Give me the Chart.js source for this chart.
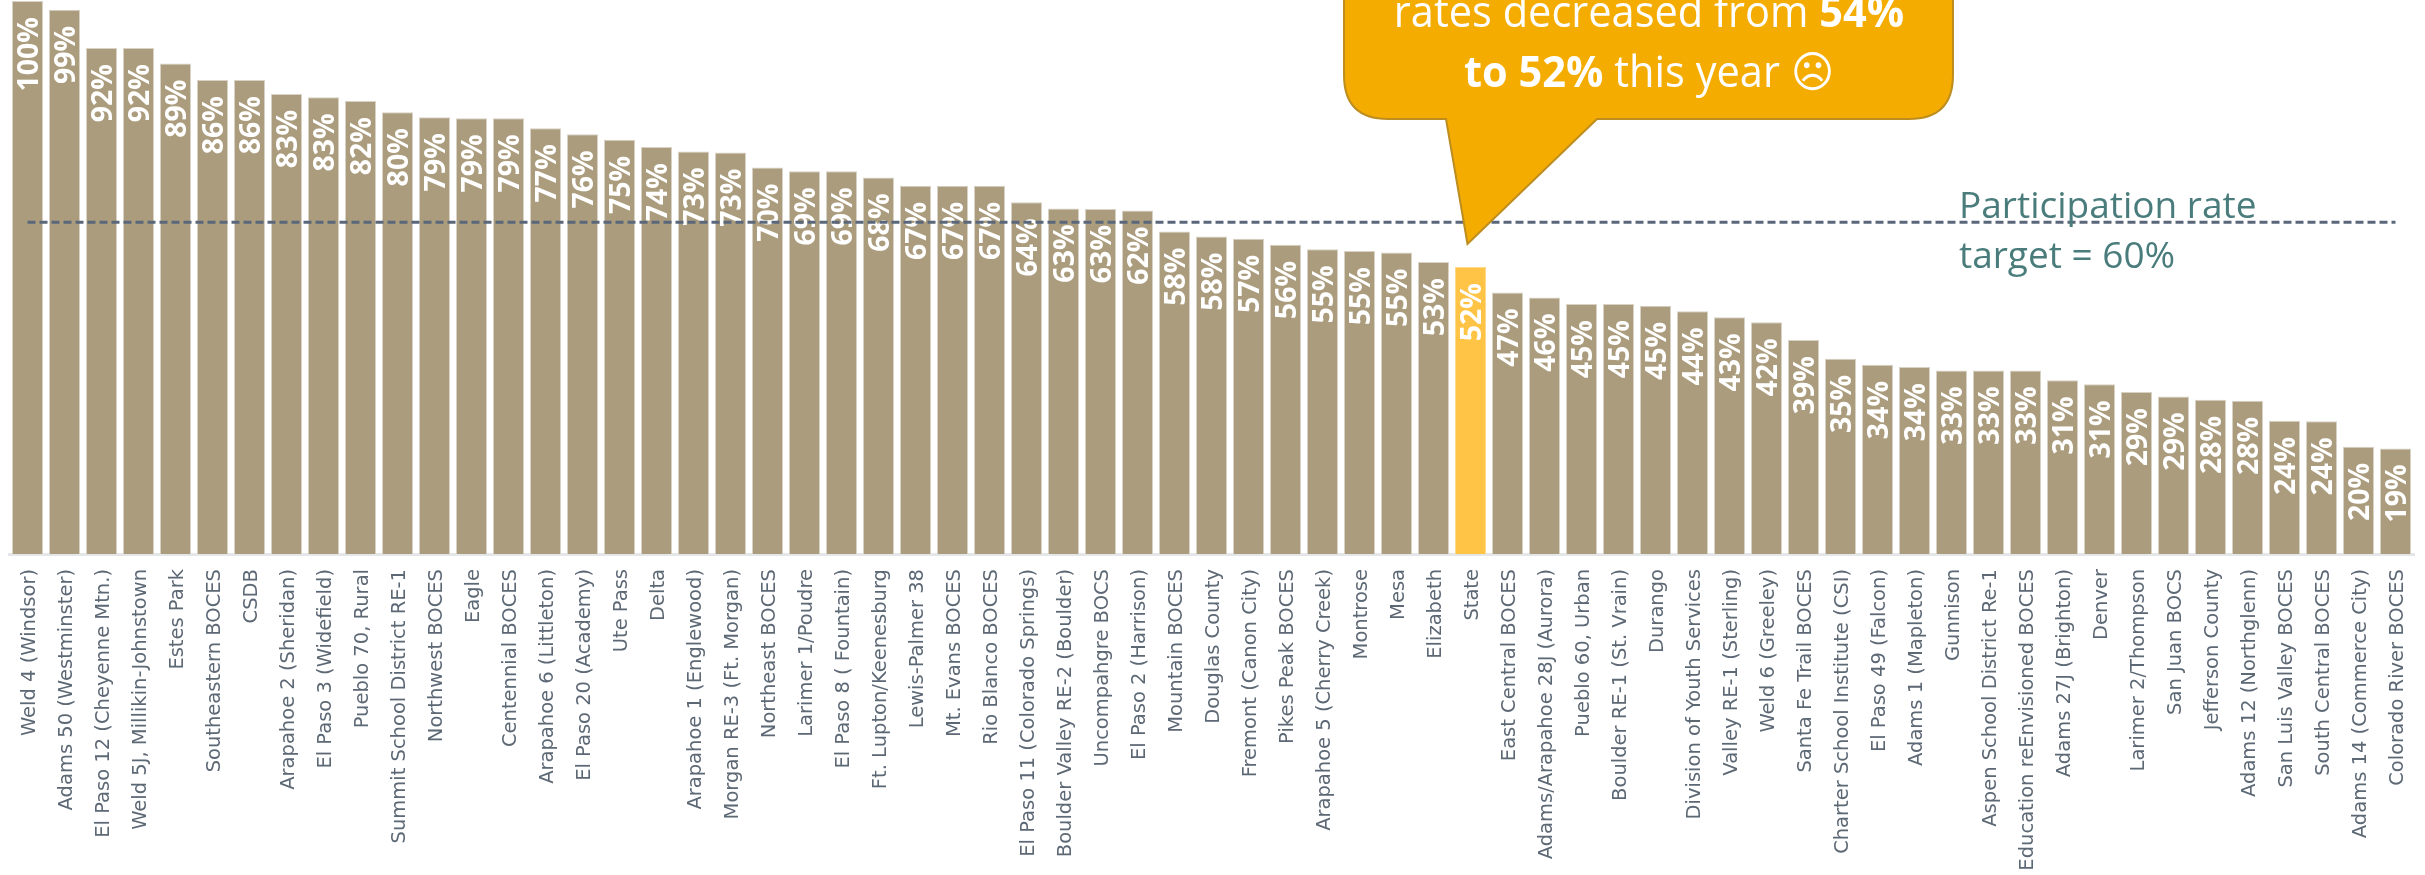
<!DOCTYPE html>
<html>
<head>
<meta charset="utf-8">
<title>Participation rate by district</title>
<script src="https://cdn.jsdelivr.net/npm/chart.js@4/dist/chart.umd.min.js"></script>
<style>
    html, body { margin: 0; padding: 0; background: #fff; }
    canvas { display: block; }
</style>
</head>
<body>
<canvas id="participationChart" width="2425" height="875"></canvas>
<script>
const districts = [
    "Weld 4 (Windsor)", "Adams 50 (Westminster)", "El Paso 12 (Cheyenne Mtn.)", "Weld 5J, Millikin-Johnstown",
    "Estes Park", "Southeastern BOCES", "CSDB", "Arapahoe 2 (Sheridan)", "El Paso 3 (Widefield)", "Pueblo 70, Rural",
    "Summit School District RE-1", "Northwest BOCES", "Eagle", "Centennial BOCES", "Arapahoe 6 (Littleton)",
    "El Paso 20 (Academy)", "Ute Pass", "Delta", "Arapahoe 1 (Englewood)", "Morgan RE-3 (Ft. Morgan)",
    "Northeast BOCES", "Larimer 1/Poudre", "El Paso 8 ( Fountain)", "Ft. Lupton/Keenesburg", "Lewis-Palmer 38",
    "Mt. Evans BOCES", "Rio Blanco BOCES", "El Paso 11 (Colorado Springs)", "Boulder Valley RE-2 (Boulder)",
    "Uncompahgre BOCS", "El Paso 2 (Harrison)", "Mountain BOCES", "Douglas County", "Fremont (Canon City)",
    "Pikes Peak BOCES", "Arapahoe 5 (Cherry Creek)", "Montrose", "Mesa", "Elizabeth", "State", "East Central BOCES",
    "Adams/Arapahoe 28J (Aurora)", "Pueblo 60, Urban", "Boulder RE-1 (St. Vrain)", "Durango",
    "Division of Youth Services", "Valley RE-1 (Sterling)", "Weld 6 (Greeley)", "Santa Fe Trail BOCES",
    "Charter School Institute (CSI)", "El Paso 49 (Falcon)", "Adams 1 (Mapleton)", "Gunnison",
    "Aspen School District Re-1", "Education reEnvisioned BOCES", "Adams 27J (Brighton)", "Denver",
    "Larimer 2/Thompson", "San Juan BOCS", "Jefferson County", "Adams 12 (Northglenn)", "San Luis Valley BOCES",
    "South Central BOCES", "Adams 14 (Commerce City)", "Colorado River BOCES"
];

// bar heights
const rates = [
    100, 98.4, 91.5, 91.5, 88.7, 85.7, 85.7, 83.2, 82.6, 81.9,
    79.9, 79, 78.8, 78.8, 77, 75.9, 74.9, 73.6, 72.8, 72.6,
    69.9, 69.2, 69.2, 68.1, 66.6, 66.6, 66.6, 63.6, 62.5, 62.4,
    62.1, 58.3, 57.4, 57, 55.9, 55.1, 54.8, 54.5, 52.8, 51.9,
    47.3, 46.4, 45.2, 45.2, 44.9, 43.9, 42.8, 41.9, 38.7, 35.3,
    34.2, 33.8, 33.2, 33.2, 33.2, 31.4, 30.7, 29.3, 28.5, 27.9,
    27.7, 24.1, 24, 19.4, 19.1
];

// printed labels, these don't always round the same way as the bars
const rateLabels = [
    100, 99, 92, 92, 89, 86, 86, 83, 83, 82,
    80, 79, 79, 79, 77, 76, 75, 74, 73, 73,
    70, 69, 69, 68, 67, 67, 67, 64, 63, 63,
    62, 58, 58, 57, 56, 55, 55, 55, 53, 52,
    47, 46, 45, 45, 45, 44, 43, 42, 39, 35,
    34, 34, 33, 33, 33, 31, 31, 29, 29, 28,
    28, 24, 24, 20, 19
];

const targetRate = 60;
const targetValues = districts.map(() => targetRate);
const highlighted = "State";

const targetText = ["Participation rate", "target = 60%"];
const calloutLines = [
    [["rates decreased from ", false], ["54%", true]],
    [["to 52%", true], [" this year ", false], ["\u2639", false]]
];

const uiFont = '"Open Sans", sans-serif';

// White rotated percentages inside the top of each bar
const barLabels = {
    id: 'barLabels',
    afterDatasetDraw(chart, args) {
        if (chart.data.datasets[args.index].type !== 'bar') return;
        const ctx = chart.ctx;
        ctx.save();
        ctx.fillStyle = '#ffffff';
        ctx.font = '700 28.5px ' + uiFont;
        ctx.textAlign = 'right';
        ctx.textBaseline = 'middle';
        args.meta.data.forEach((bar, i) => {
            ctx.save();
            ctx.translate(bar.x + 2, bar.y + 16);
            ctx.rotate(-Math.PI / 2);
            ctx.fillText(rateLabels[i] + '%', 0, 0);
            ctx.restore();
        });
        ctx.restore();
    }
};

// Speech bubble pointing at the State bar + the target note
const notes = {
    id: 'notes',
    afterDraw(chart) {
        const ctx = chart.ctx;
        const tipX = chart.scales.x.getPixelForValue(districts.indexOf(highlighted)) - 3;
        const left = 1344, right = 1953, top = -60, bottom = 119, r = 44;
        const squeeze = 0.955; // the bubble text is a bit narrower than Open Sans

        ctx.save();
        ctx.beginPath();
        ctx.moveTo(left, top);
        ctx.lineTo(right, top);
        ctx.lineTo(right, bottom - r);
        ctx.quadraticCurveTo(right, bottom, right - r, bottom);
        ctx.lineTo(1597, bottom);
        ctx.lineTo(tipX, 244);
        ctx.lineTo(1446, bottom);
        ctx.lineTo(left + r, bottom);
        ctx.quadraticCurveTo(left, bottom, left, bottom - r);
        ctx.closePath();
        ctx.fillStyle = '#F4AC00';
        ctx.fill();
        ctx.strokeStyle = '#BD8D1F';
        ctx.lineWidth = 2;
        ctx.stroke();

        ctx.fillStyle = '#ffffff';
        ctx.textAlign = 'left';
        ctx.textBaseline = 'alphabetic';
        calloutLines.forEach((runs, n) => {
            const fontFor = run => (run[1] ? '700 ' : '400 ') + '43.5px ' + uiFont + ', "DejaVu Sans"';
            let width = 0;
            runs.forEach(run => { ctx.font = fontFor(run); width += ctx.measureText(run[0]).width * squeeze; });
            let x = 1649 - width / 2;
            runs.forEach(run => {
                ctx.font = fontFor(run);
                ctx.save();
                ctx.translate(x, 27 + n * 59.5);
                ctx.scale(squeeze, 1);
                ctx.fillText(run[0], 0, 0);
                ctx.restore();
                x += ctx.measureText(run[0]).width * squeeze;
            });
        });

        ctx.fillStyle = '#4A7C7C';
        ctx.font = '400 37px ' + uiFont;
        targetText.forEach((line, n) => ctx.fillText(line, 1959, 218 + n * 50));
        ctx.restore();
    }
};

window.onload = function() {
    const ctx = document.getElementById('participationChart').getContext('2d');
    new Chart(ctx, {
        data: {
            labels: districts,
            datasets: [
                {
                    type: 'line',
                    label: 'Target',
                    data: targetValues,
                    borderColor: '#5A677B',
                    borderWidth: 3,
                    borderDash: [8, 4],
                    pointRadius: 0,
                    order: 0
                },
                {
                    type: 'bar',
                    label: 'Participation rate',
                    data: rates,
                    backgroundColor: districts.map(d => d === highlighted ? '#FFC445' : '#AA9C7C'),
                    borderColor: districts.map(d => d === highlighted ? '#FFD98A' : '#D8D2C4'),
                    borderWidth: 1,
                    categoryPercentage: 1,
                    barPercentage: 31 / 37,
                    order: 1
                }
            ]
        },
        options: {
            responsive: false,
            animation: false,
            layout: { padding: { left: 9, right: 11, top: 1, bottom: 0 } },
            plugins: {
                legend: { display: false },
                tooltip: { enabled: false }
            },
            scales: {
                x: {
                    // keep the plot area fixed, labels shouldn't push it in
                    afterFit: scale => {
                        scale.height = 321;
                        scale.paddingLeft = 0;
                        scale.paddingRight = 0;
                    },
                    grid: { display: false, drawTicks: false },
                    border: { color: '#E4E6E8', width: 3 },
                    ticks: {
                        autoSkip: false,
                        minRotation: 90,
                        maxRotation: 90,
                        padding: 15,
                        labelOffset: 2.5,
                        color: '#5D6875',
                        font: { family: '"DejaVu Sans"', size: 19.5 }
                    }
                },
                y: {
                    display: false,
                    min: 0,
                    max: 100
                }
            }
        },
        plugins: [barLabels, notes]
    });
};
</script>
</body>
</html>
